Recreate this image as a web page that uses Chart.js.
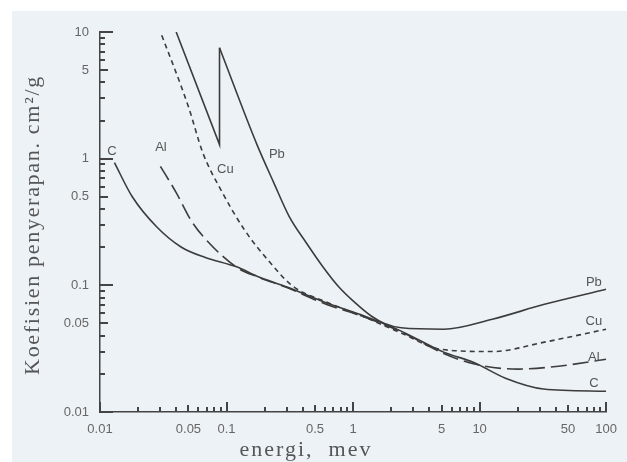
<!DOCTYPE html>
<html>
<head>
<meta charset="utf-8">
<script src="https://cdn.jsdelivr.net/npm/chart.js@4"></script>
<style>
  html, body { margin: 0; padding: 0; background: #ffffff; }
  #wrap { position: absolute; left: 12px; top: 11px; width: 615px; height: 451px; background: #edf2f7; }
</style>
</head>
<body>
<div id="wrap"><canvas id="graph"></canvas></div>
<script>
// energi (MeV) dan koefisien (cm2/g)
var cEnergy = [0.013, 0.018, 0.028, 0.044, 0.068, 0.12, 0.174, 0.3, 0.61, 1.24, 2.4, 5.2, 9.1, 16, 32, 100]
var cCoef = [0.93, 0.50, 0.29, 0.20, 0.166, 0.14, 0.118, 0.097, 0.073, 0.057, 0.0435, 0.0297, 0.0245, 0.0185, 0.0152, 0.0146]

var alEnergy = [0.030, 0.040, 0.053, 0.071, 0.12, 0.174, 0.3, 0.61, 1.24, 2.4, 5.2, 9.1, 20, 42, 100]
var alCoef = [0.87, 0.54, 0.32, 0.222, 0.139, 0.117, 0.096, 0.071, 0.056, 0.043, 0.029, 0.0239, 0.0218, 0.023, 0.0261]

var cuEnergy = [0.029, 0.05, 0.065, 0.09, 0.138, 0.22, 0.336, 0.61, 1.24, 2.4, 4.9, 12.6, 32.5, 100]
var cuCoef = [11, 2.57, 1.11, 0.57, 0.276, 0.152, 0.098, 0.074, 0.056, 0.042, 0.0313, 0.030, 0.0356, 0.045]

// Pb: bagian sebelum tepi K (garis lurus + lompatan)
var pbEdgeEnergy = [0.040, 0.088, 0.088]
var pbEdgeCoef = [10, 1.29, 7.5]
var pbEnergy = [0.088, 0.174, 0.236, 0.313, 0.425, 0.575, 0.766, 1.036, 1.40, 1.77, 2.4, 5.2, 12.6, 32.5, 100]
var pbCoef = [7.5, 1.29, 0.647, 0.349, 0.218, 0.141, 0.098, 0.073, 0.057, 0.050, 0.0462, 0.045, 0.054, 0.0708, 0.093]

var xRange = [0.01, 100]
var yRange = [0.01, 10]
var xTickLabels = [0.01, 0.05, 0.1, 0.5, 1, 5, 10, 50, 100]
var yTickLabels = [0.01, 0.05, 0.1, 0.5, 1, 5, 10]
var mantissas = [1, 2, 3, 4, 5, 6, 7, 8, 9]
var decades = [0.001, 0.01, 0.1, 1, 10, 100]

// label nama kurva (posisi dalam koordinat data)
var curveNames = ['C', 'Al', 'Cu', 'Pb', 'Pb', 'Cu', 'Al', 'C']
var nameEnergy = [0.0124, 0.0303, 0.098, 0.25, 80, 80, 80, 80]
var nameCoef = [1.14, 1.22, 0.82, 1.075, 0.106, 0.0518, 0.0271, 0.0167]

function pts(xs, ys) {
  return xs.map((v, i) => ({x: v, y: ys[i]}))
}
function hasLabel(list, v) {
  return list.some(t => Math.abs(t - v) / t < 1e-6)
}
// semua posisi tick log (1..9 x 10^n) di dalam rentang
function logSteps(r) {
  var out = []
  decades.forEach(d => {
    mantissas.forEach(m => {
      var v = m * d
      if (v >= r[0] * 0.999 && v <= r[1] * 1.001) out.push([v, m])
    })
  })
  return out
}

var ink = '#3c3c3c'
function ds(xs, ys, dash, mode) {
  return {
    data: pts(xs, ys),
    borderColor: ink,
    borderWidth: 1.6,
    borderDash: dash,
    pointRadius: 0,
    fill: false,
    cubicInterpolationMode: mode,
    tension: mode === 'monotone' ? 0.4 : 0
  }
}

var decor = {
  id: 'decor',
  afterDraw(chart) {
    var ctx = chart.ctx, a = chart.chartArea, sx = chart.scales.x, sy = chart.scales.y
    ctx.save()
    ctx.fillStyle = '#444444'
    logSteps(xRange).forEach(t => {
      var px = Math.round(sx.getPixelForValue(t[0]))
      var len = t[1] === 1 ? 10 : (t[1] === 5 ? 7 : 5)
      ctx.fillRect(px - 1, a.bottom - len, 2, len)
    })
    logSteps(yRange).forEach(t => {
      var py = Math.round(sy.getPixelForValue(t[0]))
      var len = t[1] === 1 ? 13 : (t[1] === 5 ? 8 : 5)
      ctx.fillRect(a.left, py - 1, len, 2)
    })

    // nama kurva
    ctx.fillStyle = '#555555'
    ctx.font = '13px "Liberation Sans"'
    ctx.textAlign = 'center'
    ctx.textBaseline = 'middle'
    curveNames.forEach((n, k) => {
      ctx.fillText(n, sx.getPixelForValue(nameEnergy[k]), sy.getPixelForValue(nameCoef[k]))
    })

    // judul sumbu
    ctx.font = '22px "Liberation Serif"'
    ctx.letterSpacing = '2px'
    ctx.fillText('energi,  mev', a.left + 206, a.bottom + 38)
    ctx.translate(a.left - 67, (a.top + a.bottom) / 2 + 3)
    ctx.rotate(-Math.PI / 2)
    ctx.letterSpacing = '1.7px'
    ctx.fillText('Koefisien penyerapan. cm\u00b2/g', 0, 0)
    ctx.restore()
  }
}

new Chart(document.getElementById('graph'), {
  type: 'line',
  data: {
    datasets: [
      ds(cEnergy, cCoef, [], 'monotone'),
      ds(alEnergy, alCoef, [16, 6], 'monotone'),
      ds(cuEnergy, cuCoef, [5, 4], 'monotone'),
      ds(pbEdgeEnergy, pbEdgeCoef, [], 'default'),
      ds(pbEnergy, pbCoef, [], 'monotone')
    ]
  },
  options: {
    responsive: true,
    maintainAspectRatio: false,
    animation: false,
    layout: {padding: {left: 0, top: 21, right: 12, bottom: 0}},
    plugins: {legend: {display: false}, tooltip: {enabled: false}},
    scales: {
      x: {
        type: 'logarithmic',
        min: xRange[0],
        max: xRange[1],
        afterFit(s) { s.height = 50 },
        grid: {display: false, drawTicks: false},
        border: {display: true, color: '#444', width: 1.5},
        ticks: {
          autoSkip: false,
          maxRotation: 0,
          padding: 10,
          color: '#666',
          font: {family: 'Liberation Sans', size: 13},
          callback: v => hasLabel(xTickLabels, v) ? String(v) : ''
        }
      },
      y: {
        type: 'logarithmic',
        min: yRange[0],
        max: yRange[1],
        afterFit(s) { s.width = 88 },
        grid: {display: false, drawTicks: false},
        border: {display: true, color: '#444', width: 1.5},
        ticks: {
          autoSkip: false,
          padding: 11,
          color: '#666',
          font: {family: 'Liberation Sans', size: 13},
          callback: v => hasLabel(yTickLabels, v) ? String(v) : ''
        }
      }
    }
  },
  plugins: [decor]
})
</script>
</body>
</html>
